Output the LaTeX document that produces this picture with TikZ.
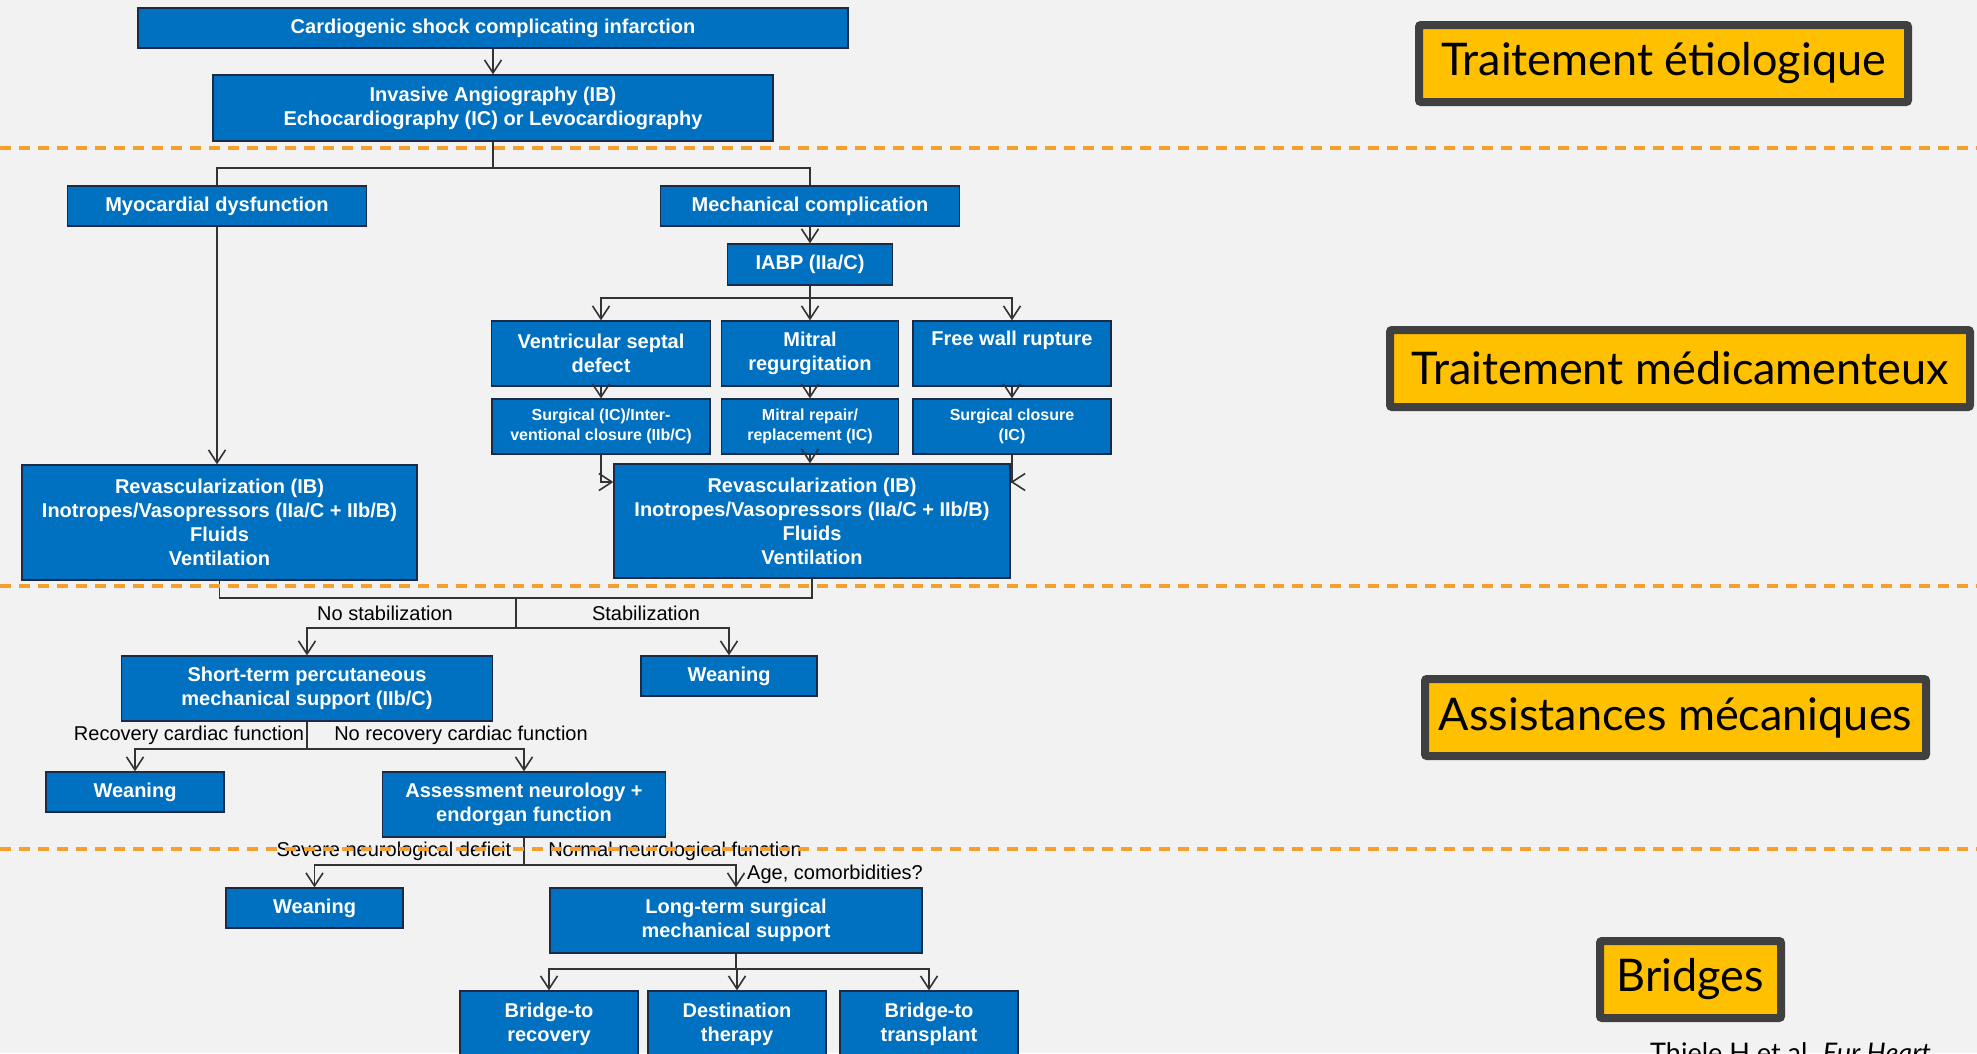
\documentclass[tikz,border=0pt]{standalone}
\usepackage{fontspec}
\setmainfont{Liberation Sans}
\newfontfamily\lblfont{Lato}
\usetikzlibrary{arrows.meta}
\definecolor{bg}{HTML}{F2F2F2}
\definecolor{boxblue}{HTML}{0070C0}
\definecolor{boxedge}{HTML}{1C2B45}
\definecolor{dashor}{HTML}{F5A02A}
\definecolor{tagfill}{HTML}{FFC000}
\definecolor{tagedge}{HTML}{404040}
\definecolor{conn}{HTML}{333333}
\begin{document}
\begin{tikzpicture}[x=1pt,y=-1pt,
  bbox/.style={fill=boxblue, draw=boxedge, line width=1.3pt, text=white, font=\bfseries\fontsize{20}{24}\selectfont, align=center, inner sep=0pt},
  sbox/.style={bbox, font=\bfseries\fontsize{16}{19.5}\selectfont},
  ln/.style={draw=conn, line width=1.5pt},
  arr/.style={ln, -{Straight Barb[length=13pt,width=17pt,line width=1.6pt]}},
  lbl/.style={font=\fontsize{20}{24}\selectfont, text=black, inner sep=0pt},
  tag/.style={fill=tagfill, draw=tagedge, line width=8pt, rounded corners=2pt, font=\lblfont\fontsize{45}{54}\selectfont, inner sep=0pt},
  orangedash/.style={draw=dashor, line width=3.5pt, dash pattern=on 11pt off 8pt}
]
\fill[bg] (0,0) rectangle (1977,1053);
\useasboundingbox (0,0) rectangle (1977,1053);

% boxes
\node[bbox, minimum width=710pt, minimum height=40pt] (top) at (493,28) {Cardiogenic shock complicating infarction};
\node[bbox, minimum width=560pt, minimum height=66pt] (inv) at (493,108) {Invasive Angiography (IB)\\Echocardiography (IC) or Levocardiography};
\node[bbox, minimum width=299pt, minimum height=40pt] (myo) at (217,206) {Myocardial dysfunction};
\node[bbox, minimum width=299pt, minimum height=40pt] (mech) at (810,206) {Mechanical complication};
\node[bbox, minimum width=165pt, minimum height=41pt] (iabp) at (810,264.5) {IABP (IIa/C)};
\node[bbox, minimum width=219pt, minimum height=65pt] (vsd) at (601,353.5) {Ventricular septal\\defect};
\node[bbox, minimum width=177pt, minimum height=65pt] (mit) at (810,353.5) {Mitral\\regurgitation};
\node[bbox, minimum width=198pt, minimum height=65pt] (fwr) at (1012,353.5) {Free wall rupture\\\strut};
\node[sbox, minimum width=218pt, minimum height=55pt] (surg) at (601,426.5) {Surgical (IC)/Inter-\\ventional closure (IIb/C)};
\node[sbox, minimum width=177pt, minimum height=55pt] (mrep) at (810,426.5) {Mitral repair/\\replacement (IC)};
\node[sbox, minimum width=198pt, minimum height=55pt] (sclo) at (1012,426.5) {Surgical closure\\(IC)};
\node[bbox, minimum width=395pt, minimum height=115pt] (revL) at (219.5,522.5) {Revascularization (IB)\\Inotropes/Vasopressors (IIa/C + IIb/B)\\Fluids\\Ventilation};
\node[bbox, minimum width=396pt, minimum height=114pt] (revR) at (812,521) {Revascularization (IB)\\Inotropes/Vasopressors (IIa/C + IIb/B)\\Fluids\\Ventilation};
\node[bbox, minimum width=371pt, minimum height=65pt] (short) at (307,688.5) {Short-term percutaneous\\mechanical support (IIb/C)};
\node[bbox, minimum width=176pt, minimum height=40pt] (wean1) at (729,676) {Weaning};
\node[bbox, minimum width=178pt, minimum height=40pt] (wean2) at (135,792) {Weaning};
\node[bbox, minimum width=283pt, minimum height=65pt] (assess) at (524,804.5) {Assessment neurology +\\endorgan function};
\node[bbox, minimum width=177pt, minimum height=40pt] (wean3) at (314.5,908) {Weaning};
\node[bbox, minimum width=372pt, minimum height=65pt] (long) at (736,920.5) {Long-term surgical\\mechanical support};
\node[bbox, minimum width=178pt, minimum height=66pt] (b1) at (549,1024) {Bridge-to\\recovery};
\node[bbox, minimum width=178pt, minimum height=66pt] (b2) at (737,1024) {Destination\\therapy};
\node[bbox, minimum width=178pt, minimum height=66pt] (b3) at (929,1024) {Bridge-to\\transplant};

% connectors
\coordinate (s1) at (493,168);
\draw[arr] (top.south) -- (inv.north);
\draw[ln] (inv.south) -- (s1);
\draw[ln] (s1) -| (myo.north);
\draw[ln] (s1) -| (mech.north);
\draw[arr] (myo.south) -- (myo.south |- revL.north);
\draw[arr] (mech.south) -- (iabp.north);
\coordinate (s2) at (810,298);
\draw[ln] (iabp.south) -- (s2);
\draw[arr] (s2) -| (vsd.north);
\draw[arr] (s2) -- (mit.north);
\draw[arr] (s2) -| (fwr.north);
\draw[arr] (vsd.south) -- (surg.north);
\draw[arr] (mit.south) -- (mrep.north);
\draw[arr] (fwr.south) -- (sclo.north);
\coordinate (yr) at (0,482);
\draw[arr] (surg.south) |- (revR.west |- yr);
\draw[arr] (mrep.south) -- (mrep.south |- revR.north);
\draw[arr] (sclo.south) |- (revR.east |- yr);
\coordinate (j1) at (516,598);
\draw[ln] (revL.south) |- (j1) -| (revR.south);
\coordinate (s3) at (516,628);
\draw[ln] (j1) -- (s3);
\draw[arr] (s3) -| (short.north);
\draw[arr] (s3) -| (wean1.north);
\coordinate (s4) at (307,749);
\draw[ln] (short.south) -- (s4);
\draw[arr] (s4) -| (wean2.north);
\draw[arr] (s4) -| (assess.north);
\coordinate (s5) at (524,865);
\draw[ln] (assess.south) -- (s5);
\draw[arr] (s5) -| (wean3.north);
\draw[arr] (s5) -| (long.north);
\coordinate (s6) at (736,969);
\draw[ln] (long.south) -- (s6);
\draw[arr] (s6) -| (b1.north);
\draw[arr] (s6) -| (b2.north);
\draw[arr] (s6) -| (b3.north);

% labels
\node[lbl] (lnost) at (385,613) {No stabilization};
\node[lbl] (lst) at (646,613) {Stabilization};
\node[lbl] (lrec) at (189,735) {Recovery cardiac function};
\node[lbl] (lnorec) at (461,735) {No recovery cardiac function};
\node[lbl] (lsev) at (394,851) {Severe neurological deficit};
\node[lbl] (lnorm) at (675,851) {Normal neurological function};
\node[lbl, anchor=west] (lage) at (747,874) {Age, comorbidities?};

% tags
\node[tag, minimum width=489pt, minimum height=77pt] (t1) at (1663.5,63.5) {Traitement étiologique};
\node[tag, minimum width=580pt, minimum height=77pt] (t2) at (1680,368.5) {Traitement médicamenteux};
\node[tag, minimum width=501pt, minimum height=77pt] (t3) at (1675.5,717.5) {Assistances mécaniques};
\node[tag, minimum width=181pt, minimum height=77pt] (t4) at (1690.5,979.5) {Bridges};
\node[font=\lblfont\fontsize{27}{32}\selectfont, anchor=base west, inner sep=0pt] (cite) at (1650,1062) {Thiele H et al. \textit{Eur Heart}};

% separators
\draw[orangedash] (0,148) -- (1977,148);
\draw[orangedash] (0,586) -- (1977,586);
\draw[orangedash] (0,849) -- (1977,849);
\end{tikzpicture}
\end{document}
